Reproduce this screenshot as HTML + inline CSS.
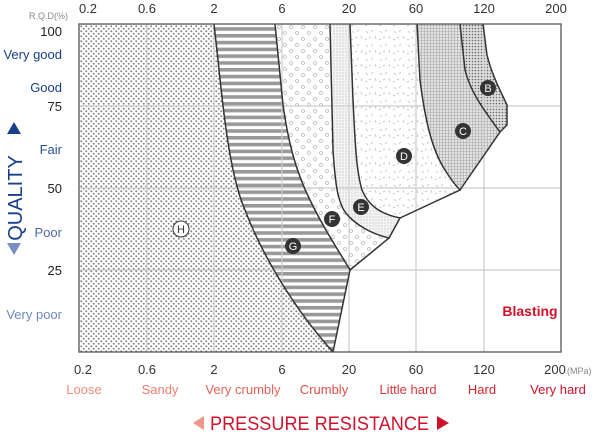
<!DOCTYPE html>
<html><head><meta charset="utf-8"><style>
body{margin:0;background:#fff;}
svg{display:block;font-family:"Liberation Sans",sans-serif;}
</style></head><body>
<svg width="600" height="435" viewBox="0 0 600 435" xmlns="http://www.w3.org/2000/svg">
<defs>
<pattern id="pH" width="5" height="5" patternUnits="userSpaceOnUse"><rect width="5" height="5" fill="#fff"/><circle cx="1.25" cy="1.25" r="1" fill="#888"/><circle cx="3.75" cy="3.75" r="1" fill="#888"/></pattern>
<pattern id="pG" width="6" height="6.8" patternUnits="userSpaceOnUse"><rect width="6" height="6.8" fill="#fff"/><rect y="0" width="6" height="3.6" fill="#999"/></pattern>
<pattern id="pF" width="12" height="12" patternUnits="userSpaceOnUse"><rect width="12" height="12" fill="#fff"/><circle cx="3" cy="3" r="1.5" fill="none" stroke="#bbb" stroke-width="0.8"/><circle cx="9" cy="9" r="1.5" fill="none" stroke="#bbb" stroke-width="0.8"/></pattern>
<pattern id="pE" width="3" height="3" patternUnits="userSpaceOnUse"><rect width="3" height="3" fill="#f4f4f4"/><circle cx="1" cy="1" r="0.6" fill="#bbb"/></pattern>
<pattern id="pD" width="14" height="14" patternUnits="userSpaceOnUse"><rect width="14" height="14" fill="#fff"/><path d="M2 3l2 2M9 2l-2 2M5 10l2-1M11 8l1 3M1 12l2-1" stroke="#bbb" stroke-width="0.7"/></pattern>
<pattern id="pC" width="3" height="3" patternUnits="userSpaceOnUse"><rect width="3" height="3" fill="#e2e2e2"/><path d="M0 1.5H3M1.5 0V3" stroke="#a8a8a8" stroke-width="0.6"/></pattern>
<pattern id="pB" width="3" height="3" patternUnits="userSpaceOnUse"><rect width="3" height="3" fill="#ddd"/><circle cx="1.5" cy="1.5" r="0.8" fill="#666"/></pattern>
</defs>
<path d="M79 24H214L218 60C225 130 232 180 245 210C262 255 295 310 333 352H79Z" fill="url(#pH)"/>
<path d="M214 24H275L283 105C288 140 295 170 310 200C322 225 335 245 350 270L333 352C295 310 262 255 245 210C232 180 225 130 218 60Z" fill="url(#pG)"/>
<path d="M275 24H330L333 150C335 180 337 200 345 212C355 225 372 234 389 238L350 270C335 245 322 225 310 200C295 170 288 140 283 105Z" fill="url(#pF)"/>
<path d="M330 24H350L353 100C355 140 356 170 362 190C368 205 380 214 400 218L389 238C372 234 355 225 345 212C337 200 335 180 333 150Z" fill="url(#pE)"/>
<path d="M350 24H417L420 80C425 120 432 150 445 170C450 178 455 185 460 190L400 218C380 214 368 205 362 190C356 170 355 140 353 100Z" fill="url(#pD)"/>
<path d="M417 24H460L465 70C470 90 480 105 500 132L460 190C455 185 450 178 445 170C432 150 425 120 420 80Z" fill="url(#pC)"/>
<path d="M460 24H483L487 55C492 75 500 90 507 105V125L500 132C480 105 470 90 465 70Z" fill="url(#pB)"/>
<g stroke="#ccc" stroke-width="1.2">
<path d="M147 24V352M214 24V352M282 24V352M349 24V352M416 24V352M484 24V352"/>
<path d="M79 106H561M79 188H561M79 270H561"/>
</g>
<g fill="none" stroke="#333" stroke-width="1.5">
<path d="M214 24L218 60C225 130 232 180 245 210C262 255 295 310 333 352"/>
<path d="M275 24L283 105C288 140 295 170 310 200C322 225 335 245 350 270L333 352"/>
<path d="M330 24L333 150C335 180 337 200 345 212C355 225 372 234 389 238L350 270"/>
<path d="M350 24L353 100C355 140 356 170 362 190C368 205 380 214 400 218L389 238"/>
<path d="M417 24L420 80C425 120 432 150 445 170C450 178 455 185 460 190L400 218"/>
<path d="M460 24L465 70C470 90 480 105 500 132L460 190"/>
<path d="M483 24L487 55C492 75 500 90 507 105V125L500 132"/>
</g>
<rect x="79" y="24" width="482" height="328" fill="none" stroke="#555" stroke-width="1.3"/>
<g font-size="11" text-anchor="middle">
<circle cx="181" cy="229" r="8" fill="#fff" stroke="#333"/><text x="181" y="233" fill="#333">H</text>
<g fill="#333"><circle cx="293" cy="246" r="8"/><circle cx="332" cy="219" r="8"/><circle cx="361" cy="207" r="8"/><circle cx="404" cy="156" r="8"/><circle cx="463" cy="131" r="8"/><circle cx="488" cy="88" r="8"/></g>
<g fill="#fff"><text x="293" y="250">G</text><text x="332" y="223">F</text><text x="361" y="211">E</text><text x="404" y="160">D</text><text x="463" y="135">C</text><text x="488" y="92">B</text></g>
</g>
<text x="530" y="316" font-size="14" font-weight="bold" fill="#d0112b" text-anchor="middle">Blasting</text>
<g font-size="13" fill="#333" text-anchor="middle">
<text x="88" y="13">0.2</text><text x="147" y="13">0.6</text><text x="214" y="13">2</text><text x="282" y="13">6</text><text x="349" y="13">20</text><text x="416" y="13">60</text><text x="484" y="13">120</text><text x="556" y="13">200</text>
</g>
<text x="68" y="19" font-size="9" fill="#888" text-anchor="end">R.Q.D(%)</text>
<g font-size="13" text-anchor="end">
<text x="62" y="36" fill="#222">100</text><text x="62" y="111" fill="#222">75</text><text x="62" y="193" fill="#222">50</text><text x="62" y="275" fill="#222">25</text>
<text x="62" y="59" fill="#173f8a">Very good</text><text x="62" y="92" fill="#173f8a">Good</text><text x="62" y="154" fill="#2a4f9a">Fair</text><text x="62" y="237" fill="#4f68a8">Poor</text><text x="62" y="319" fill="#7088c2">Very poor</text>
</g>
<text transform="translate(22,198) rotate(-90)" font-size="20" fill="#173f8a" text-anchor="middle">QUALITY</text>
<path d="M7 134L14 122L21 134Z" fill="#173f8a"/>
<path d="M7 243L14 255L21 243Z" fill="#7b8fc7"/>
<g font-size="13" fill="#333" text-anchor="middle">
<text x="83" y="374">0.2</text><text x="147" y="374">0.6</text><text x="214" y="374">2</text><text x="282" y="374">6</text><text x="349" y="374">20</text><text x="416" y="374">60</text><text x="484" y="374">120</text><text x="555" y="374">200</text>
</g>
<text x="567" y="374" font-size="9" fill="#888">(MPa)</text>
<g font-size="13" text-anchor="middle">
<text x="84" y="394" fill="#f08a7a">Loose</text><text x="160" y="394" fill="#ee7f6f">Sandy</text><text x="243" y="394" fill="#e8625a">Very crumbly</text><text x="324" y="394" fill="#e24e4c">Crumbly</text><text x="408" y="394" fill="#dd3540">Little hard</text><text x="482" y="394" fill="#d8222f">Hard</text><text x="558" y="394" fill="#d0112b">Very hard</text>
</g>
<path d="M193 423L204 416V430Z" fill="#f0958a"/>
<text x="210" y="430" font-size="19" fill="#d0112b" textLength="219" lengthAdjust="spacingAndGlyphs">PRESSURE RESISTANCE</text>
<path d="M437 416L449 423L437 430Z" fill="#d0112b"/>
</svg>
</body></html>
